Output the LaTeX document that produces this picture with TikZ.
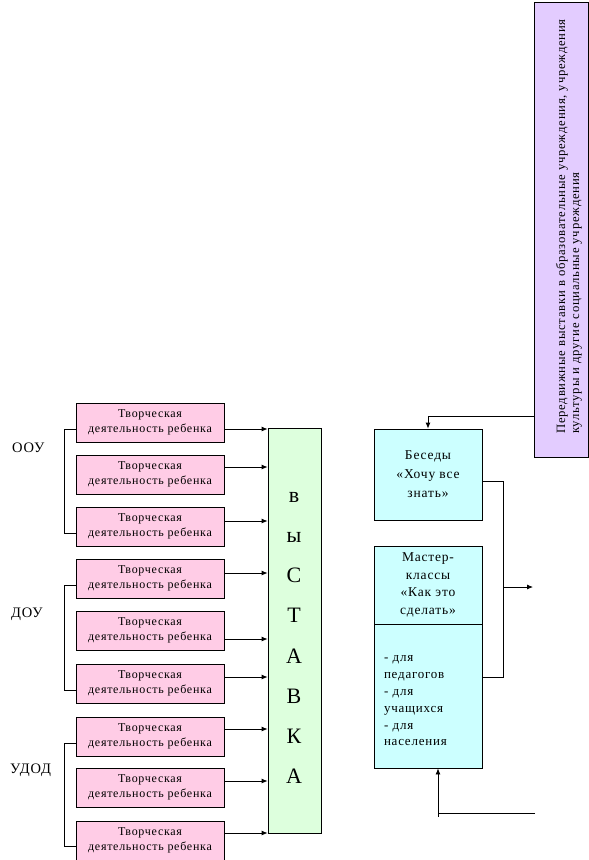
\documentclass[tikz,border=0pt]{standalone}
\usepackage{fontspec}
\setmainfont{Liberation Serif}
\newfontfamily\wide[LetterSpace=6]{Liberation Serif}
\usetikzlibrary{arrows.meta}
\definecolor{pinkf}{HTML}{FFCCE6}
\definecolor{greenf}{HTML}{DDFFDD}
\definecolor{cyanf}{HTML}{CCFFFF}
\definecolor{purplef}{HTML}{E3CCFF}
\tikzset{
  line/.style={line width=0.8pt},
  arr/.style={line width=0.8pt,-{Latex[length=6pt,width=5pt]}},
  pbox/.style={draw,line width=0.8pt,fill=pinkf,minimum width=148pt,minimum height=39pt,inner sep=0pt,align=center,font=\wide\fontsize{12}{15}\selectfont},
  cbox/.style={draw,line width=0.8pt,fill=cyanf,minimum width=108pt,inner sep=0pt,align=center,font=\wide\fontsize{13.5}{19}\selectfont},
  lbl/.style={anchor=base west,inner sep=0pt,font=\wide\fontsize{14.5}{16}\selectfont}
}
\begin{document}
\begin{tikzpicture}[x=1pt,y=-1pt]
\useasboundingbox (0,0) rectangle (589,860);
% pink boxes
\node[pbox] (b1) at (150,422.5) {Творческая\\деятельность ребенка};
\node[pbox] (b2) at (150,474.5) {Творческая\\деятельность ребенка};
\node[pbox] (b3) at (150,526.5) {Творческая\\деятельность ребенка};
\node[pbox] (b4) at (150,578.5) {Творческая\\деятельность ребенка};
\node[pbox] (b5) at (150,630.5) {Творческая\\деятельность ребенка};
\node[pbox] (b6) at (150,683.5) {Творческая\\деятельность ребенка};
\node[pbox] (b7) at (150,736.5) {Творческая\\деятельность ребенка};
\node[pbox] (b8) at (150,787.5) {Творческая\\деятельность ребенка};
\node[pbox] (b9) at (150,840.5) {Творческая\\деятельность ребенка};
% group labels
\node[lbl] (g1) at (12,452) {ООУ};
\node[lbl] (g2) at (11,617) {ДОУ};
\node[lbl] (g3) at (10,773) {УДОД};
% brackets
\draw[line] (b1.west |- 0,429) -- (64,429) -- (64,533) -- (b3.west |- 0,533);
\draw[line] (b4.west |- 0,585) -- (64,585) -- (64,690) -- (b6.west |- 0,690);
\draw[line] (b7.west |- 0,743) -- (64,743) -- (64,846) -- (b9.west |- 0,846);
% exhibition column
\node[draw,line width=0.8pt,fill=greenf,minimum width=53pt,minimum height=405pt,inner sep=0pt] (ex) at (294.5,630.5) {};
\node[inner sep=0pt,align=center,font=\fontsize{22}{40.2}\selectfont] (exl) at (294,638) {в\\ы\\С\\Т\\А\\В\\К\\А};
% arrows to exhibition
\draw[arr] (b1.east |- 0,429) -- (ex.west |- 0,429);
\draw[arr] (b2.east |- 0,467) -- (ex.west |- 0,467);
\draw[arr] (b3.east |- 0,521) -- (ex.west |- 0,521);
\draw[arr] (b4.east |- 0,573) -- (ex.west |- 0,573);
\draw[arr] (b5.east |- 0,639) -- (ex.west |- 0,639);
\draw[arr] (b6.east |- 0,677) -- (ex.west |- 0,677);
\draw[arr] (b7.east |- 0,729) -- (ex.west |- 0,729);
\draw[arr] (b8.east |- 0,781) -- (ex.west |- 0,781);
\draw[arr] (b9.east |- 0,833) -- (ex.west |- 0,833);
% purple box
\node[draw,line width=0.8pt,fill=purplef,minimum width=54pt,minimum height=455pt,inner sep=0pt] (pu) at (561,229.5) {};
\node[rotate=90,anchor=west,inner sep=0pt,align=left,font=\wide\fontsize{12.7}{14}\selectfont] (put) at (569,434) {Передвижные выставки в образовательные учреждения, учреждения\\культуры и другие социальные учреждения};
% cyan boxes
\node[cbox,minimum height=91pt] (be) at (428,474.5) {Беседы\\«Хочу все\\знать»};
\node[cbox,minimum height=78pt,font=\wide\fontsize{13.5}{17.7}\selectfont] (mt) at (428,585) {Мастер-\\классы\\«Как это\\сделать»};
\node[cbox,minimum height=144pt,text width=88pt,align=left,font=\wide\fontsize{13}{16.8}\selectfont] (mb) at (428,696) {\rule{0pt}{16pt}- для\\педагогов\\- для\\учащихся\\- для\\населения};
% connectors right side
\draw[arr] (pu.west |- 0,416) -| (be.north);
\draw[line] (be.east |- 0,481) -- (503,481) -- (503,677) -- (mb.east |- 0,677);
\coordinate (j) at (503,587);
\coordinate (out1) at (533,587);
\draw[arr] (j) -- (out1);
\coordinate (in1) at (535,813);
\draw[line] (in1) -- (438,813) -- (438,817);
\draw[arr] (438,813) -- (mb.south -| 438,0);
\end{tikzpicture}
\end{document}
